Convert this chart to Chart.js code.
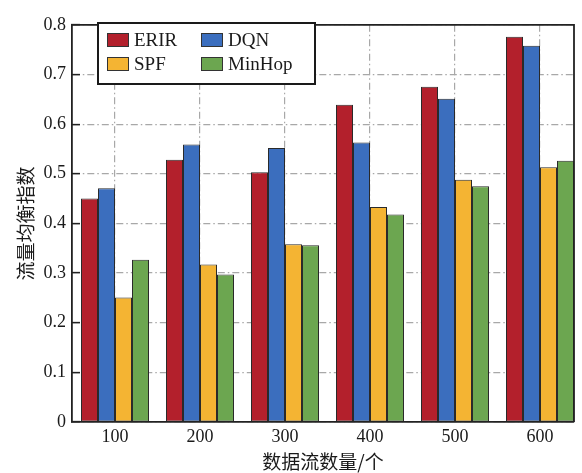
<!DOCTYPE html>
<html>
<head>
<meta charset="utf-8">
<script src="https://cdn.jsdelivr.net/npm/chart.js@4/dist/chart.umd.min.js"></script>
<style>
  html, body { margin: 0; padding: 0; background: #fff; }
  #wrap { width: 582px; height: 473px; }
</style>
</head>
<body>
<div id="wrap"><canvas id="c" width="582" height="473"></canvas></div>
<script>
const categories = [100, 200, 300, 400, 500, 600];
const seriesNames = ['ERIR', 'DQN', 'SPF', 'MinHop'];
const erir   = [0.450, 0.528, 0.503, 0.639, 0.675, 0.776];
const dqn    = [0.471, 0.559, 0.552, 0.563, 0.651, 0.758];
const spf    = [0.251, 0.317, 0.358, 0.433, 0.488, 0.513];
const minhop = [0.327, 0.297, 0.356, 0.418, 0.475, 0.526];
const yTickLabels = ['0', '0.1', '0.2', '0.3', '0.4', '0.5', '0.6', '0.7', '0.8'];
const xTitle = '数据流数量/个';
const yTitle = '流量均衡指数';

const colors = ['#B3202C', '#3B6EBE', '#F4B433', '#6CA650'];
const seriesValues = [erir, dqn, spf, minhop];

const datasets = seriesNames.map((name, k) => ({
  label: name,
  data: categories.map((c, i) => ({ x: c, y: seriesValues[k][i] })),
  backgroundColor: colors[k],
  borderColor: '#2a2a2a',
  borderWidth: 1,
  borderSkipped: false,
  categoryPercentage: 0.8,
  barPercentage: 1.0
}));

const serif = "'Liberation Serif', 'Times New Roman', serif";
const cjk = "'Noto Sans CJK SC', 'Noto Sans', sans-serif";
const gridDash = [7, 3, 1.5, 3];

Chart.defaults.font.family = serif;
Chart.defaults.font.size = 18;
Chart.defaults.color = '#1a1a1a';

const framePlugin = {
  id: 'frame',
  afterDatasetsDraw(chart) {
    const { ctx, chartArea: a } = chart;
    ctx.save();
    ctx.strokeStyle = '#222';
    ctx.lineWidth = 1.8;
    ctx.beginPath();
    ctx.moveTo(a.left, a.top);
    ctx.lineTo(a.right, a.top);
    ctx.lineTo(a.right, a.bottom);
    ctx.stroke();
    ctx.restore();
  }
};

const boxLegendPlugin = {
  id: 'boxLegend',
  afterDraw(chart) {
    const { ctx } = chart;
    const bx = 98, by = 23, bw = 217, bh = 61;
    ctx.save();
    ctx.fillStyle = '#fff';
    ctx.fillRect(bx, by, bw, bh);
    ctx.strokeStyle = '#1a1a1a';
    ctx.lineWidth = 2;
    ctx.strokeRect(bx, by, bw, bh);
    const colX = [107, 201];
    const rowY = [33, 57];
    ctx.font = '19px ' + serif;
    ctx.textBaseline = 'middle';
    ctx.textAlign = 'left';
    chart.data.datasets.forEach((ds, i) => {
      const x = colX[i % 2], y = rowY[Math.floor(i / 2)];
      ctx.fillStyle = ds.backgroundColor;
      ctx.fillRect(x, y, 22, 14);
      ctx.strokeStyle = '#333';
      ctx.lineWidth = 1;
      ctx.strokeRect(x + 0.5, y + 0.5, 21, 13);
      ctx.fillStyle = '#1a1a1a';
      ctx.fillText(ds.label, x + 27, y + 8);
    });
    ctx.restore();
  }
};

new Chart(document.getElementById('c'), {
  type: 'bar',
  data: { datasets },
  options: {
    responsive: false,
    animation: false,
    layout: { padding: { left: 0, right: 8, top: 14, bottom: 0 } },
    plugins: {
      legend: { display: false },
      tooltip: { enabled: false }
    },
    scales: {
      x: {
        type: 'linear',
        offset: false,
        min: 49.4,
        max: 640,
        afterBuildTicks(scale) {
          scale.ticks = categories.map(v => ({ value: v }));
        },
        afterFit(scale) { scale.height = 51; },
        ticks: {
          color: '#1a1a1a',
          font: { family: serif, size: 18 },
          padding: 4,
          callback: (v) => String(v)
        },
        grid: {
          offset: false,
          color: '#a8a8a8',
          lineWidth: 1.2,
          drawTicks: false
        },
        border: { display: true, color: '#222', width: 1.8, dash: gridDash },
        title: {
          display: true,
          text: xTitle,
          color: '#1a1a1a',
          font: { family: cjk, size: 19 },
          padding: { top: 0, bottom: 0 }
        }
      },
      y: {
        min: 0,
        max: 0.8,
        afterBuildTicks(scale) {
          scale.ticks = yTickLabels.map(s => ({ value: parseFloat(s) }));
        },
        afterFit(scale) { scale.width = 72; },
        ticks: {
          color: '#1a1a1a',
          font: { family: serif, size: 18 },
          padding: 14,
          callback: (v, i) => yTickLabels[i]
        },
        grid: {
          color: '#a8a8a8',
          lineWidth: 1.2,
          drawTicks: true,
          tickLength: -8,
          tickColor: '#222',
          tickWidth: 1.5,
          tickBorderDash: []
        },
        border: { display: true, color: '#222', width: 1.8, dash: gridDash },
        title: {
          display: true,
          text: yTitle,
          color: '#1a1a1a',
          font: { family: cjk, size: 19 },
          padding: { top: 14, bottom: 0 }
        }
      }
    }
  },
  plugins: [framePlugin, boxLegendPlugin]
});
</script>
</body>
</html>
